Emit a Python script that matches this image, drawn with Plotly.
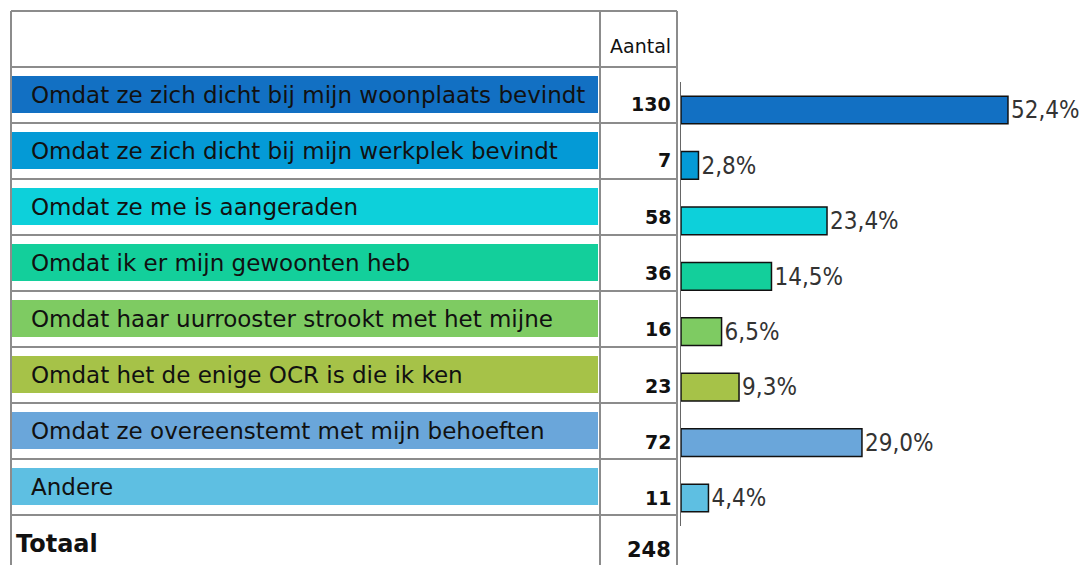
import plotly.graph_objects as go

W, H = 1084, 565

categories = [
    "Omdat ze zich dicht bij mijn woonplaats bevindt",
    "Omdat ze zich dicht bij mijn werkplek bevindt",
    "Omdat ze me is aangeraden",
    "Omdat ik er mijn gewoonten heb",
    "Omdat haar uurrooster strookt met het mijne",
    "Omdat het de enige OCR is die ik ken",
    "Omdat ze overeenstemt met mijn behoeften",
    "Andere",
]
counts = [130, 7, 58, 36, 16, 23, 72, 11]
total = 248
percentages = [52.4, 2.8, 23.4, 14.5, 6.5, 9.3, 29.0, 4.4]
colors = ["#1270C3", "#049AD6", "#0DD0DA", "#13CF9B", "#7ECB62", "#A6C248", "#6AA6DA", "#5EBFE2"]
header_label = "Aantal"
total_label = "Totaal"


def px(x):
    return x / W


def py(y):
    return 1 - y / H


pct_text = [f"{p:.1f}%".replace(".", ",") for p in percentages]

fig = go.Figure()
fig.add_trace(go.Bar(
    y=categories,
    x=percentages,
    orientation="h",
    marker=dict(color=colors, line=dict(color="#111111", width=1.5)),
    width=0.5,
    text=pct_text,
    textposition="outside",
    textfont=dict(family="Liberation Sans Narrow, DejaVu Sans Condensed, sans-serif", size=26, color="#333333"),
    cliponaxis=False,
    hoverinfo="skip",
))

shapes = []
annotations = []
grid = dict(color="#8c8c8c", width=2)
# table frame
shapes.append(dict(type="line", xref="paper", yref="paper", x0=px(11), x1=px(677), y0=py(11), y1=py(11), line=grid))
shapes.append(dict(type="line", xref="paper", yref="paper", x0=px(11), x1=px(11), y0=py(11), y1=py(565), line=grid))
shapes.append(dict(type="line", xref="paper", yref="paper", x0=px(600), x1=px(600), y0=py(11), y1=py(565), line=grid))
shapes.append(dict(type="line", xref="paper", yref="paper", x0=px(677), x1=px(677), y0=py(11), y1=py(565), line=grid))
row_top = 67
row_h = 56
for i in range(len(categories) + 1):
    y = row_top + i * row_h
    shapes.append(dict(type="line", xref="paper", yref="paper", x0=px(11), x1=px(677), y0=py(y), y1=py(y), line=grid))

label_font = dict(family="DejaVu Sans, sans-serif", size=23, color="#111111")
num_font = dict(family="DejaVu Sans, sans-serif", size=19, color="#111111")
for i, (cat, n, c) in enumerate(zip(categories, counts, colors)):
    bc = 94.5 + 56 * i
    shapes.append(dict(type="rect", xref="paper", yref="paper", x0=px(11), x1=px(598),
                       y0=py(bc - 18.5), y1=py(bc + 18.5), fillcolor=c, line=dict(width=0), layer="below"))
    annotations.append(dict(text=cat, x=px(29), y=py(bc + 0.5), xref="paper", yref="paper",
                            xanchor="left", yanchor="middle", showarrow=False, font=label_font))
    annotations.append(dict(text=f"<b>{n}</b>", x=px(673), y=py(104 + 56.3 * i), xref="paper", yref="paper",
                            xanchor="right", yanchor="middle", showarrow=False, font=num_font))

annotations.append(dict(text=header_label, x=px(673), y=py(46), xref="paper", yref="paper",
                        xanchor="right", yanchor="middle", showarrow=False,
                        font=dict(family="DejaVu Sans, sans-serif", size=19, color="#111111")))
annotations.append(dict(text=f"<b>{total_label}</b>", x=px(14), y=py(544), xref="paper", yref="paper",
                        xanchor="left", yanchor="middle", showarrow=False,
                        font=dict(family="DejaVu Sans, sans-serif", size=24, color="#111111")))
annotations.append(dict(text=f"<b>{total}</b>", x=px(673), y=py(550), xref="paper", yref="paper",
                        xanchor="right", yanchor="middle", showarrow=False,
                        font=dict(family="DejaVu Sans, sans-serif", size=21, color="#111111")))

fig.update_layout(
    width=W, height=H,
    margin=dict(l=0, r=0, t=0, b=0),
    paper_bgcolor="white", plot_bgcolor="white",
    showlegend=False,
    xaxis=dict(domain=[px(681), 1], range=[0, (W - 681) / 6.24], visible=False, fixedrange=True),
    yaxis=dict(domain=[py(525.7), py(82.3)], autorange="reversed", showticklabels=False,
               showline=True, linecolor="#666666", linewidth=1, ticks="", showgrid=False, zeroline=False,
               fixedrange=True),
    shapes=shapes,
    annotations=annotations,
    bargap=0.5,
)

fig.write_html("out.html", config={"displayModeBar": False},
               post_script="document.body.style.margin='0';")
